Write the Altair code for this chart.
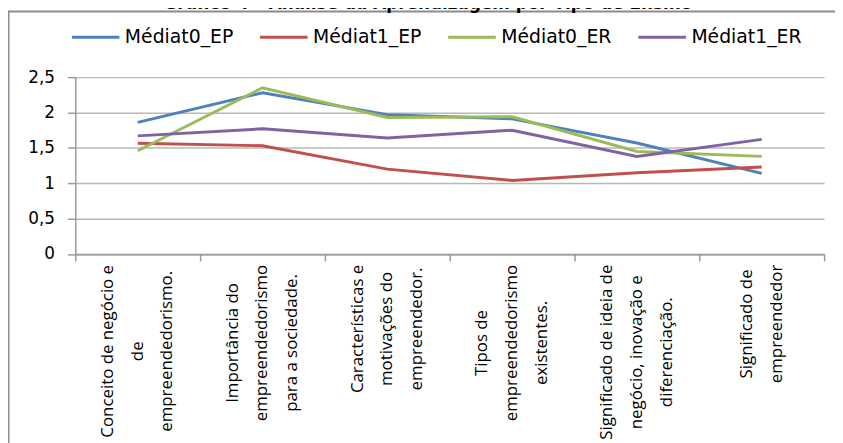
import altair as alt
import pandas as pd

# ---------------- data ----------------
categories = [
    "Conceito de negócio e de empreendedorismo.",
    "Importância do empreendedorismo para a sociedade.",
    "Características e motivações do empreendedor.",
    "Tipos de empreendedorismo existentes.",
    "Significado de ideia de negócio, inovação e diferenciação.",
    "Significado de empreendedor",
]
label_lines = [
    ["Conceito de negócio e", "de", "empreendedorismo."],
    ["Importância do", "empreendedorismo", "para a sociedade."],
    ["Características e", "motivações do", "empreendedor."],
    ["Tipos de", "empreendedorismo", "existentes."],
    ["Significado de ideia de", "negócio, inovação e", "diferenciação."],
    ["Significado de", "empreendedor"],
]
series_names = ["Médiat0_EP", "Médiat1_EP", "Médiat0_ER", "Médiat1_ER"]
mediat0_ep = [1.86, 2.28, 1.97, 1.91, 1.57, 1.14]
mediat1_ep = [1.565, 1.53, 1.20, 1.04, 1.15, 1.23]
mediat0_er = [1.46, 2.35, 1.93, 1.94, 1.45, 1.38]
mediat1_er = [1.67, 1.77, 1.64, 1.75, 1.38, 1.62]
colors = ["#4F81BD", "#C0504D", "#9BBB59", "#8064A2"]
y_ticks = [0, 0.5, 1, 1.5, 2, 2.5]
title_text = "Gráfico 4 – Análise da Aprendizagem por Tipo de Ensino"

# ---------------- layout ----------------
W, H = 756, 178.6
BAND = W / len(categories)
LABEL_FONT_SIZE = 17
LINE_H = 30
GAP = 10.7

# approximate Open Sans advance widths (units per 2048 em)
_w = {" ": 532, "a": 1139, "b": 1255, "c": 1000, "d": 1255, "e": 1149, "f": 694,
      "g": 1122, "h": 1257, "i": 518, "j": 518, "k": 1075, "l": 518, "m": 1905,
      "n": 1257, "o": 1237, "p": 1255, "q": 1255, "r": 836, "s": 977, "t": 723,
      "u": 1257, "v": 1026, "w": 1593, "x": 1073, "y": 1028, "z": 977,
      "C": 1292, "I": 625, "S": 1065, "T": 1057, ".": 545, ",": 500}
_acc = {"á": "a", "â": "a", "ã": "a", "é": "e", "í": "i", "ó": "o", "õ": "o", "ç": "c"}


def text_len(s):
    return sum(_w.get(_acc.get(ch, ch), 1150) for ch in s) * LABEL_FONT_SIZE / 2048


rows = []
for name, vals in zip(series_names, [mediat0_ep, mediat1_ep, mediat0_er, mediat1_er]):
    for c, v in zip(categories, vals):
        rows.append({"category": c, "series": name, "value": v})
df = pd.DataFrame(rows)

lab_df = pd.DataFrame({
    "category": categories,
    "label": ["\n".join(l) for l in label_lines],
    "off": [GAP + max(text_len(s) for s in l) / 2 for l in label_lines],
    "xoff": [BAND / 2 - (len(l) - 1) * LINE_H / 2 for l in label_lines],
})

x_enc = alt.X(
    "category:N",
    sort=categories,
    scale=alt.Scale(type="band", domain=categories, paddingInner=0, paddingOuter=0),
    axis=alt.Axis(title=None, labels=False, tickBand="extent", ticks=True, tickSize=7,
                  tickColor="#9A9A9A", tickWidth=1.5, domainColor="#9A9A9A",
                  domainWidth=1.5, grid=False),
)

lines = alt.Chart(df).mark_line(strokeWidth=3).encode(
    x=x_enc,
    y=alt.Y(
        "value:Q",
        scale=alt.Scale(domain=[0, 2.5], nice=False, zero=True),
        axis=alt.Axis(
            title=None, values=y_ticks,
            labelExpr="replace(format(datum.value, '.1~f'), '.', ',')",
            tickSize=8, tickColor="#9A9A9A", tickWidth=1.5,
            domainColor="#9A9A9A", domainWidth=1.5,
            grid=True, gridColor="#B8B8B8", gridWidth=1.5,
            labelFont="DejaVu Sans", labelFontSize=17, labelColor="#000000",
            labelPadding=13,
        ),
    ),
    color=alt.Color(
        "series:N",
        sort=series_names,
        scale=alt.Scale(domain=series_names, range=colors),
        legend=alt.Legend(
            title=None, orient="none", direction="horizontal",
            legendX=-5, legendY=-66,
            symbolType="stroke", symbolSize=2304, symbolStrokeWidth=3,
            labelFont="DejaVu Sans", labelFontSize=19, labelColor="#000000",
            labelOffset=4, columnPadding=20, padding=0, labelLimit=300,
        ),
    ),
)

xlabels = alt.Chart(lab_df).mark_text(
    angle=270, align="center", baseline="middle", lineBreak="\n",
    lineHeight=LINE_H, font="Open Sans", fontSize=LABEL_FONT_SIZE, color="#000000",
).encode(
    x=alt.X("category:N", sort=categories),
    xOffset=alt.XOffset("xoff:Q", scale=None),
    y=alt.value(H),
    yOffset=alt.YOffset("off:Q", scale=None),
    text="label:N",
)

frame_top = alt.Chart(pd.DataFrame({"k": [0]})).mark_rule(
    color="#8C8C8C", strokeWidth=2
).encode(x=alt.value(-68), x2=alt.value(W + 11), y=alt.value(-66.2))
frame_left = alt.Chart(pd.DataFrame({"k": [0]})).mark_rule(
    color="#8C8C8C", strokeWidth=2
).encode(x=alt.value(-67.5), y=alt.value(-66.2), y2=alt.value(H + 200))

title = alt.Chart(pd.DataFrame({"t": [title_text]})).mark_text(
    font="DejaVu Sans", fontSize=17, fontWeight="bold", align="center",
    baseline="alphabetic", color="#000000",
).encode(text="t:N", x=alt.value(356), y=alt.value(-69.2))

chart = alt.layer(frame_top, frame_left, title, lines, xlabels).properties(
    width=W, height=H,
    autosize=alt.AutoSizeParams(type="none"),
    padding={"left": 68, "top": 67.7, "right": 11, "bottom": 188.7},
    background="white",
).configure_view(stroke=None)

chart.save("out.html", embed_options={"renderer": "svg", "actions": False})
